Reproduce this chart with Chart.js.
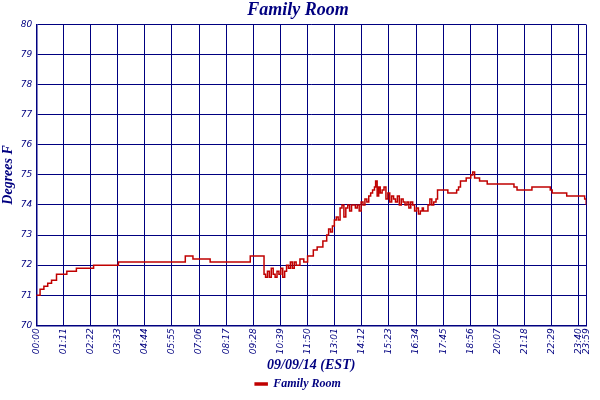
<!DOCTYPE html>
<html><head>
<script src="https://cdn.jsdelivr.net/npm/chart.js@4"></script>
<style>body{margin:0;background:#fff}#wrap{width:600px;height:400px}</style>
</head><body>
<div id="wrap"><canvas id="c"></canvas></div>
<script>
// minutos desde 00:00 y temperatura
const minutos = [0,10,20,30,40,53,80,105,145,150,215,390,410,455,560,590,596,600,605,610,615,620,625,630,635,640,645,650,655,660,665,670,675,680,690,700,710,715,725,735,740,750,760,765,770,775,780,785,790,795,800,805,810,815,820,825,830,835,840,845,850,855,860,865,870,875,880,885,888,892,896,900,905,910,915,920,925,930,935,940,945,950,955,960,965,970,975,980,985,990,995,1000,1005,1010,1013,1018,1025,1030,1035,1040,1046,1050,1055,1070,1077,1095,1100,1105,1110,1118,1125,1130,1137,1142,1147,1160,1180,1205,1250,1258,1297,1300,1345,1350,1388,1395,1435,1439];
const temps   = [71.0,71.2,71.3,71.4,71.5,71.7,71.8,71.9,71.9,72.0,72.1,72.3,72.2,72.1,72.3,72.3,71.7,71.6,71.8,71.6,71.9,71.7,71.6,71.8,71.7,71.9,71.6,71.8,72.0,71.9,72.1,71.9,72.1,72.0,72.2,72.1,72.3,72.3,72.5,72.6,72.6,72.8,73.0,73.2,73.1,73.3,73.5,73.6,73.5,73.9,74.0,73.6,73.9,74.0,73.8,74.0,74.0,73.9,74.0,73.8,74.1,74.0,74.2,74.1,74.3,74.4,74.5,74.6,74.8,74.3,74.6,74.4,74.5,74.6,74.2,74.4,74.1,74.3,74.2,74.1,74.3,74.0,74.2,74.1,74.0,74.1,73.9,74.1,74.0,73.8,73.9,73.7,73.8,73.9,73.8,73.8,74.0,74.2,74.0,74.1,74.2,74.5,74.5,74.5,74.4,74.4,74.5,74.6,74.8,74.8,74.9,74.9,75.0,75.1,74.9,74.8,74.7,74.7,74.6,74.5,74.6,74.6,74.5,74.4,74.3,74.3,74.2,74.0];
const ticksX  = [0,71,142,213,284,355,426,497,568,639,710,781,852,923,994,1065,1136,1207,1278,1349,1420,1439];
const navy = '#000080';
const fmt = m => String(Math.floor(m/60)).padStart(2,'0') + ':' + String(m%60).padStart(2,'0');

new Chart(document.getElementById('c'), {
  type: 'line',
  data: {
    datasets: [{
      label: 'Family Room',
      data: minutos.map((m, i) => ({ x: m, y: temps[i] })),
      borderColor: '#c00000', backgroundColor: '#c00000',
      borderWidth: 1.5, pointRadius: 0, stepped: true, fill: false
    }]
  },
  options: {
    animation: false, responsive: true, maintainAspectRatio: false,
    layout: { padding: { top: 0, right: 4, left: 0, bottom: 0 } },
    plugins: {
      title: { display: true, text: 'Family Room', color: navy, padding: { top: 0, bottom: 3 },
        font: { family: 'Liberation Serif', style: 'italic', size: 18 } },
      legend: { position: 'bottom', labels: { color: navy, boxWidth: 12, boxHeight: 2, padding: 4,
        font: { family: 'Liberation Serif', style: 'italic', weight: 'bold', size: 12 } } },
      tooltip: { enabled: false }
    },
    scales: {
      x: {
        type: 'linear', min: 0, max: 1439,
        afterBuildTicks: ax => { ax.ticks = ticksX.map(v => ({ value: v })); },
        grid: { color: navy, lineWidth: 1, drawTicks: false },
        border: { color: navy, width: 1.5 },
        ticks: { color: navy, maxRotation: 90, minRotation: 90, autoSkip: false, padding: 3,
          font: { family: 'DejaVu Sans', style: 'italic', size: 9 }, callback: v => fmt(v) },
        title: { display: true, text: '09/09/14 (EST)', color: navy, padding: 0,
          font: { family: 'Liberation Serif', style: 'italic', weight: 'bold', size: 14 } }
      },
      y: {
        min: 70, max: 80,
        grid: { color: navy, lineWidth: 1, drawTicks: false },
        border: { color: navy, width: 1.5 },
        ticks: { stepSize: 1, color: navy, padding: 4,
          font: { family: 'DejaVu Sans', style: 'italic', size: 9 } },
        title: { display: true, text: 'Degrees F', color: navy, padding: 0,
          font: { family: 'Liberation Serif', style: 'italic', weight: 'bold', size: 14 } }
      }
    }
  }
});
</script>
</body></html>
